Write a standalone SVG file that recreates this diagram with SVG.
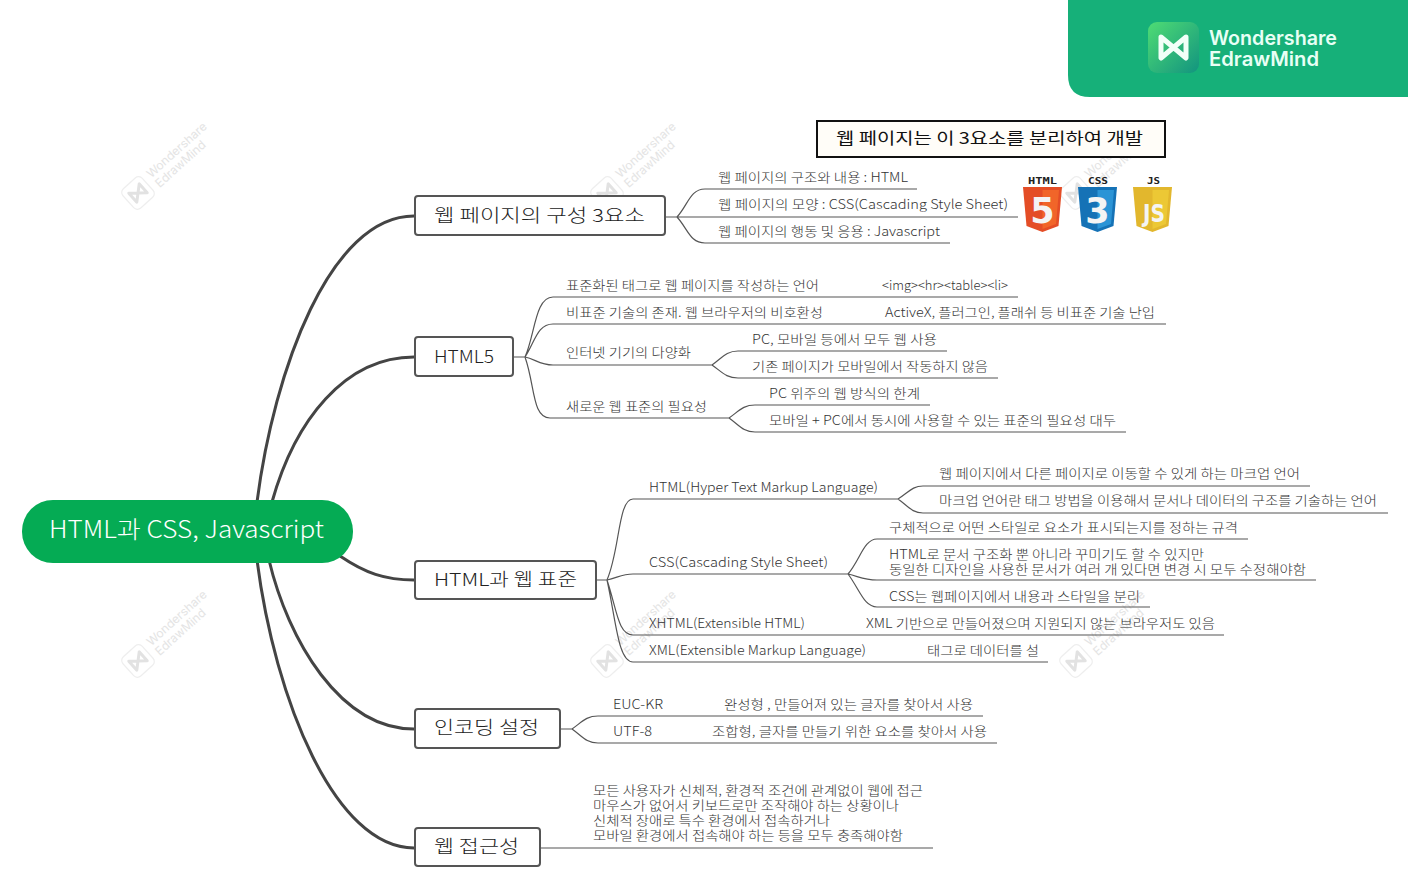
<svg xmlns="http://www.w3.org/2000/svg" width="1408" height="888" viewBox="0 0 1408 888">
<style>
text{font-family:"Noto Sans CJK KR","Noto Sans",sans-serif;fill:#333}
.t{font-size:13px;font-weight:300}
.m{font-size:18px;fill:#222;font-weight:300}
.c{fill:none;stroke:#555;stroke-width:1.2}
.k{fill:none;stroke:#444;stroke-width:3}
.b{fill:#fff;stroke:#555;stroke-width:2}
.w text{font-family:"Inter",sans-serif;font-size:12px;fill:#e4e4e4}
.lg{font-family:"Inter",sans-serif;font-weight:600;font-size:20px;fill:#e8fff5}
.ic{font-family:"DejaVu Sans Mono",monospace;font-weight:700;font-size:9px;fill:#222}
.ig{font-family:"DejaVu Sans",sans-serif;font-weight:700;fill:#f4f4f4}
</style>
<defs>
<linearGradient id="g" x1="0" y1="0" x2="1" y2="1"><stop offset="0" stop-color="#4fdc74"/><stop offset="1" stop-color="#12947f"/></linearGradient>
<g id="wm" class="w"><g transform="rotate(-42)"><rect x="-13" y="-13" width="26" height="26" rx="5" fill="#fff" stroke="#eeeeee" stroke-width="1.2"/><path d="M-7 -6L7 6V-6L-7 6Z" fill="none" stroke="#e2e2e2" stroke-width="3" stroke-linejoin="round"/><text x="19.500" y="-2" textLength="76" lengthAdjust="spacingAndGlyphs">Wondershare</text><text x="19.500" y="11" textLength="63" lengthAdjust="spacingAndGlyphs">EdrawMind</text></g></g>
</defs>
<rect width="1408" height="888" fill="#fff"/>
<g id="watermarks">
<use href="#wm" x="138" y="193"/><use href="#wm" x="607" y="193"/><use href="#wm" x="1076" y="193"/>
<use href="#wm" x="138" y="661"/><use href="#wm" x="607" y="661"/><use href="#wm" x="1076" y="661"/>
</g>
<g id="connectors">
<path class="k" d="M257 502C274 370 330 216 414 216"/>
<path class="k" d="M272 502C295 420 345 357 414 357"/>
<path class="k" d="M340 556C365 573 385 580 414 580"/>
<path class="k" d="M269 560C288 640 340 729 414 729"/>
<path class="k" d="M257 560C275 700 335 848 414 848"/>
<path class="c" d="M665 217H677C688 205 690 189 705 189H917M677 217H1018M677 217C688 229 690 243 705 243H950"/>
<path class="c" d="M513 357H525C535 335 535 297 553 297H1018M525 357C535 342 537 324 553 324H1166M525 357C535 359 540 365 553 365H712C722 358 726 351 738 351H947M712 365C722 372 726 378 738 378H998"/>
<path class="c" d="M525 357C535 385 532 418 550 418H729C739 411 743 405 755 405H930M729 418C739 425 743 432 755 432H1126"/>
<path class="c" d="M596 580H607C620 550 618 499 633 499H898C908 493 912 486 923 486H1310M898 499C908 506 912 513 923 513H1388"/>
<path class="c" d="M607 580C617 578 622 574 633 574H848C860 560 864 539 877 539H1248M848 574C860 577 864 580 877 580H1316M848 574C860 590 864 607 877 607H1150"/>
<path class="c" d="M607 580C617 610 618 635 633 635H1224M607 580C616 620 618 662 633 662H1048"/>
<path class="c" d="M560 729H572C582 722 586 716 598 716H983M572 729C582 736 586 743 598 743H997"/>
<path class="c" d="M540 848H933"/>
</g>
<g id="logo-panel">
<path d="M1068 0H1408V97H1090Q1068 97 1068 75Z" fill="#16b079"/>
<rect x="1148" y="22" width="51" height="51" rx="9" fill="url(#g)"/>
<path d="M1161 37L1186 58V37L1161 58Z" fill="none" stroke="#f2fff8" stroke-width="5" stroke-linejoin="round"/>
<text class="lg" x="1209" y="45" textLength="128" lengthAdjust="spacingAndGlyphs">Wondershare</text>
<text class="lg" x="1209" y="66" textLength="110" lengthAdjust="spacingAndGlyphs">EdrawMind</text>
</g>
<g id="root"><rect x="22" y="500" width="331" height="63" rx="31" fill="#05ab54"/><text x="49" y="538" font-size="24" style="fill:#fff;font-weight:300" textLength="275" lengthAdjust="spacingAndGlyphs">HTML과 CSS, Javascript</text></g>
<g id="n1"><rect class="b" x="415" y="196" width="250" height="39" rx="3"/><text class="m" x="434" y="222" textLength="211" lengthAdjust="spacingAndGlyphs">웹 페이지의 구성 3요소</text></g>
<g id="n2"><rect class="b" x="415" y="337" width="98" height="39" rx="3"/><text class="m" x="434" y="363" textLength="60" lengthAdjust="spacingAndGlyphs">HTML5</text></g>
<g id="n3"><rect class="b" x="415" y="561" width="181" height="38" rx="3"/><text class="m" x="434" y="586" textLength="143" lengthAdjust="spacingAndGlyphs">HTML과 웹 표준</text></g>
<g id="n4"><rect class="b" x="415" y="709" width="145" height="39" rx="3"/><text class="m" x="434" y="734" textLength="105" lengthAdjust="spacingAndGlyphs">인코딩 설정</text></g>
<g id="n5"><rect class="b" x="415" y="828" width="125" height="38" rx="3"/><text class="m" x="434" y="853" textLength="85" lengthAdjust="spacingAndGlyphs">웹 접근성</text></g>
<g id="title-note"><rect x="817" y="121" width="348" height="36" fill="#fffdf8" stroke="#111" stroke-width="2"/><text x="836" y="144" font-size="16" style="fill:#111" textLength="307" lengthAdjust="spacingAndGlyphs">웹 페이지는 이 3요소를 분리하여 개발</text></g>
<g id="icons">
<text class="ic" x="1028" y="184" textLength="29" lengthAdjust="spacingAndGlyphs">HTML</text>
<text class="ic" x="1088" y="184" textLength="20" lengthAdjust="spacingAndGlyphs">CSS</text>
<text class="ic" x="1147" y="184" textLength="13" lengthAdjust="spacingAndGlyphs">JS</text>
<path d="M1023 187H1062L1058.500 226L1042.500 232L1026.500 226Z" fill="#e44d26"/><path d="M1042.500 190H1059L1056 224L1042.500 229Z" fill="#f16529"/>
<text class="ig" x="1042.500" y="223" font-size="35" text-anchor="middle">5</text>
<path d="M1078 187H1117L1113.500 226L1097.500 232L1081.500 226Z" fill="#1572b6"/><path d="M1097.500 190H1114L1111 224L1097.500 229Z" fill="#2b94d6"/>
<text class="ig" x="1097.500" y="223" font-size="35" text-anchor="middle">3</text>
<path d="M1133 187H1172L1168.500 226L1152.500 232L1136.500 226Z" fill="#e2b72d"/><path d="M1152.500 190H1169L1166 224L1152.500 229Z" fill="#ecc835"/>
<text class="ig" x="1143" y="222" font-size="24" textLength="22" lengthAdjust="spacingAndGlyphs">JS</text>
</g>
<g id="labels" transform="translate(0 1)">
<text class="t" x="718" y="181" textLength="190" lengthAdjust="spacingAndGlyphs">웹 페이지의 구조와 내용 : HTML</text>
<text class="t" x="718" y="208" textLength="290" lengthAdjust="spacingAndGlyphs">웹 페이지의 모양 : CSS(Cascading Style Sheet)</text>
<text class="t" x="718" y="235" textLength="222" lengthAdjust="spacingAndGlyphs">웹 페이지의 행동 및 응용 : Javascript</text>
<text class="t" x="566" y="289" textLength="253" lengthAdjust="spacingAndGlyphs">표준화된 태그로 웹 페이지를 작성하는 언어</text>
<text class="t" x="882" y="289" textLength="126" lengthAdjust="spacingAndGlyphs">&lt;img&gt;&lt;hr&gt;&lt;table&gt;&lt;li&gt;</text>
<text class="t" x="566" y="316" textLength="257" lengthAdjust="spacingAndGlyphs">비표준 기술의 존재. 웹 브라우저의 비호환성</text>
<text class="t" x="885" y="316" textLength="270" lengthAdjust="spacingAndGlyphs">ActiveX, 플러그인, 플래쉬 등 비표준 기술 난입</text>
<text class="t" x="566" y="356" textLength="125" lengthAdjust="spacingAndGlyphs">인터넷 기기의 다양화</text>
<text class="t" x="752" y="343" textLength="185" lengthAdjust="spacingAndGlyphs">PC, 모바일 등에서 모두 웹 사용</text>
<text class="t" x="752" y="370" textLength="236" lengthAdjust="spacingAndGlyphs">기존 페이지가 모바일에서 작동하지 않음</text>
<text class="t" x="566" y="410" textLength="141" lengthAdjust="spacingAndGlyphs">새로운 웹 표준의 필요성</text>
<text class="t" x="769" y="397" textLength="151" lengthAdjust="spacingAndGlyphs">PC 위주의 웹 방식의 한계</text>
<text class="t" x="769" y="424" textLength="347" lengthAdjust="spacingAndGlyphs">모바일 + PC에서 동시에 사용할 수 있는 표준의 필요성 대두</text>
<text class="t" x="649" y="491" textLength="229" lengthAdjust="spacingAndGlyphs">HTML(Hyper Text Markup Language)</text>
<text class="t" x="939" y="477" textLength="361" lengthAdjust="spacingAndGlyphs">웹 페이지에서 다른 페이지로 이동할 수 있게 하는 마크업 언어</text>
<text class="t" x="939" y="504" textLength="438" lengthAdjust="spacingAndGlyphs">마크업 언어란 태그 방법을 이용해서 문서나 데이터의 구조를 기술하는 언어</text>
<text class="t" x="649" y="566" textLength="179" lengthAdjust="spacingAndGlyphs">CSS(Cascading Style Sheet)</text>
<text class="t" x="889" y="531" textLength="349" lengthAdjust="spacingAndGlyphs">구체적으로 어떤 스타일로 요소가 표시되는지를 정하는 규격</text>
<text class="t" x="889" y="558" textLength="315" lengthAdjust="spacingAndGlyphs">HTML로 문서 구조화 뿐 아니라 꾸미기도 할 수 있지만</text>
<text class="t" x="889" y="573" textLength="417" lengthAdjust="spacingAndGlyphs">동일한 디자인을 사용한 문서가 여러 개 있다면 변경 시 모두 수정해야함</text>
<text class="t" x="889" y="600" textLength="251" lengthAdjust="spacingAndGlyphs">CSS는 웹페이지에서 내용과 스타일을 분리</text>
<text class="t" x="649" y="627" textLength="156" lengthAdjust="spacingAndGlyphs">XHTML(Extensible HTML)</text>
<text class="t" x="866" y="627" textLength="349" lengthAdjust="spacingAndGlyphs">XML 기반으로 만들어졌으며 지원되지 않는 브라우저도 있음</text>
<text class="t" x="649" y="654" textLength="217" lengthAdjust="spacingAndGlyphs">XML(Extensible Markup Language)</text>
<text class="t" x="927" y="654" textLength="112" lengthAdjust="spacingAndGlyphs">태그로 데이터를 설</text>
<text class="t" x="613" y="708" textLength="50" lengthAdjust="spacingAndGlyphs">EUC-KR</text>
<text class="t" x="724" y="708" textLength="249" lengthAdjust="spacingAndGlyphs">완성형 , 만들어져 있는 글자를 찾아서 사용</text>
<text class="t" x="613" y="735" textLength="39" lengthAdjust="spacingAndGlyphs">UTF-8</text>
<text class="t" x="712" y="735" textLength="275" lengthAdjust="spacingAndGlyphs">조합형, 글자를 만들기 위한 요소를 찾아서 사용</text>
<text class="t" x="593" y="794" textLength="330" lengthAdjust="spacingAndGlyphs">모든 사용자가 신체적, 환경적 조건에 관계없이 웹에 접근</text>
<text class="t" x="593" y="809" textLength="306" lengthAdjust="spacingAndGlyphs">마우스가 없어서 키보드로만 조작해야 하는 상황이나</text>
<text class="t" x="593" y="824" textLength="237" lengthAdjust="spacingAndGlyphs">신체적 장애로 특수 환경에서 접속하거나</text>
<text class="t" x="593" y="839" textLength="310" lengthAdjust="spacingAndGlyphs">모바일 환경에서 접속해야 하는 등을 모두 충족해야함</text>
</g>
</svg>
